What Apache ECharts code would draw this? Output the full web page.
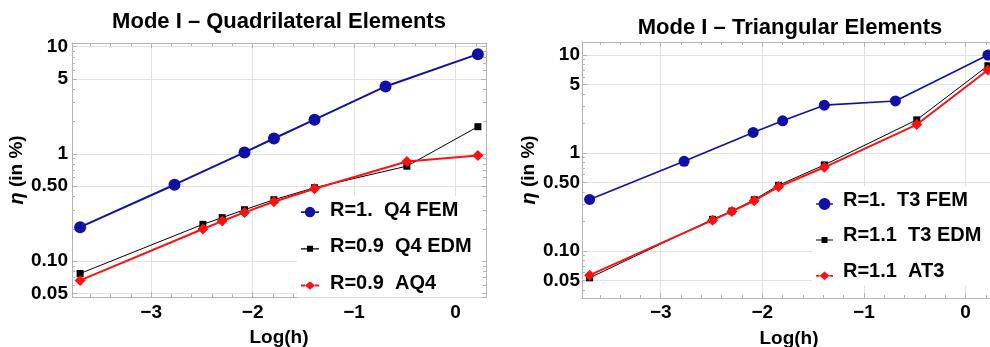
<!DOCTYPE html>
<html><head><meta charset="utf-8">
<script src="https://cdn.jsdelivr.net/npm/echarts@6/dist/echarts.min.js"></script>
<style>html,body{margin:0;padding:0;background:#fff;overflow:hidden}#c{width:990px;height:347px}</style>
</head><body><div id="c"></div>
<script>
// ---- Data ----
const titleQ = 'Mode I \u2013 Quadrilateral Elements';
const titleT = 'Mode I \u2013 Triangular Elements';
const xName = 'Log(h)';
const yName = '{i|\u03b7} (in %)';

const namesQ = ['R=1.  Q4 FEM', 'R=0.9  Q4 EDM', 'R=0.9  AQ4'];
const xQ_FEM = [-3.70, -2.77, -2.08, -1.79, -1.39, -0.69, 0.22];
const yQ_FEM = [0.207, 0.515, 1.03, 1.39, 2.08, 4.25, 8.5];
const xQ_EDM = [-3.70, -2.49, -2.30, -2.08, -1.79, -1.39, -0.48, 0.22];
const yQ_EDM = [0.0765, 0.22, 0.254, 0.301, 0.373, 0.483, 0.767, 1.79];
const xQ_AQ4 = [-3.70, -2.49, -2.30, -2.08, -1.79, -1.39, -0.48, 0.22];
const yQ_AQ4 = [0.066, 0.199, 0.236, 0.284, 0.357, 0.472, 0.848, 0.964];

const namesT = ['R=1.  T3 FEM', 'R=1.1  T3 EDM', 'R=1.1  AT3'];
const xT_FEM = [-3.70, -2.77, -2.09, -1.80, -1.39, -0.69, 0.22];
const yT_FEM = [0.335, 0.822, 1.62, 2.13, 3.08, 3.40, 10.0];
const xT_EDM = [-3.70, -2.49, -2.30, -2.08, -1.84, -1.39, -0.48, 0.22];
const yT_EDM = [0.053, 0.21, 0.255, 0.333, 0.468, 0.755, 2.18, 7.78];
const xT_AT3 = [-3.70, -2.49, -2.30, -2.08, -1.84, -1.39, -0.48, 0.22];
const yT_AT3 = [0.0565, 0.206, 0.253, 0.325, 0.451, 0.714, 1.95, 7.03];

const xTickValues = [-3, -2, -1, 0];
const xTickLabels = ['\u22123', '\u22122', '\u22121', '0'];
const xMinorTicks = [-3.6, -3.4, -3.2, -2.8, -2.6, -2.4, -2.2, -1.8, -1.6, -1.4, -1.2, -0.8, -0.6, -0.4, -0.2, 0.2];
const yTickValues = [0.05, 0.1, 0.5, 1, 5, 10];
const yTickLabels = ['0.05', '0.10', '0.50', '1', '5', '10'];
const yMinorTicks = [0.04, 0.06, 0.07, 0.08, 0.09, 0.2, 0.3, 0.4, 0.6, 0.7, 0.8, 0.9, 2, 3, 4, 6, 7, 8, 9, 20];

// ---- Styling ----
const FONT = 'Liberation Sans';
const BLUE = '#1010a4', RED = '#ff1010', BLACK = '#000000';
const FRAME = '#b4b4b4', GRID = '#e2e2e2';

const grids = [
  {left: 72, top: 43, width: 414, height: 254, containLabel: false, outerBoundsMode: 'none'},
  {left: 582, top: 42, width: 414, height: 256, containLabel: false, outerBoundsMode: 'none'}
];
const xRanges = [[-3.78, 0.30], [-3.775, 0.30]];
const yRanges = [[0.0462, 10.8], [0.033, 13.6]];

function xLabelFmt(v) { for (let i = 0; i < xTickValues.length; i++) if (Math.abs(v - xTickValues[i]) < 1e-6) return xTickLabels[i]; return ''; }
function yLabelFmt(v) { for (let i = 0; i < yTickValues.length; i++) if (Math.abs(Math.log10(v) - Math.log10(yTickValues[i])) < 1e-6) return yTickLabels[i]; return ''; }

const xAxes = [], yAxes = [];
grids.forEach((g, gi) => {
  const [xmin, xmax] = xRanges[gi];
  const [ymin, ymax] = yRanges[gi];
  const base = {gridIndex: gi, min: xmin, max: xmax, type: 'value'};
  xAxes.push(Object.assign({}, base, {
    position: 'bottom', name: xName, nameLocation: 'middle', nameGap: 31,
    nameTextStyle: {fontFamily: FONT, fontWeight: 'bold', fontSize: 19, color: '#000'},
    axisLine: {show: true, onZero: false, lineStyle: {color: FRAME, width: 1}},
    axisTick: {show: true, inside: true, length: 5, customValues: xTickValues, lineStyle: {color: FRAME}},
    axisLabel: {show: true, customValues: xTickValues, formatter: xLabelFmt, margin: gi === 0 ? 6 : 5,
      fontFamily: FONT, fontWeight: 'bold', fontSize: 19, color: '#000'},
    splitLine: {show: true, lineStyle: {color: GRID, width: 1}}
  }));
  xAxes.push(Object.assign({}, base, {
    position: 'bottom', axisLine: {show: false, onZero: false},
    axisTick: {show: true, inside: true, length: 3, customValues: xMinorTicks, lineStyle: {color: FRAME}},
    axisLabel: {show: false}, splitLine: {show: false}
  }));
  xAxes.push(Object.assign({}, base, {
    position: 'top', axisLine: {show: true, onZero: false, lineStyle: {color: FRAME, width: 1}},
    axisTick: {show: true, inside: true, length: 5, customValues: xTickValues, lineStyle: {color: FRAME}},
    axisLabel: {show: false}, splitLine: {show: false}
  }));
  xAxes.push(Object.assign({}, base, {
    position: 'top', axisLine: {show: false, onZero: false},
    axisTick: {show: true, inside: true, length: 3, customValues: xMinorTicks, lineStyle: {color: FRAME}},
    axisLabel: {show: false}, splitLine: {show: false}
  }));

  const ybase = {gridIndex: gi, min: ymin, max: ymax, type: 'log', logBase: 10};
  yAxes.push(Object.assign({}, ybase, {
    position: 'left', name: yName, nameLocation: 'middle', nameGap: 43,
    nameTextStyle: {fontFamily: FONT, fontWeight: 'bold', fontSize: 19, color: '#000',
      rich: {i: {fontFamily: FONT, fontWeight: 'bold', fontStyle: 'italic', fontSize: 20, color: '#000'}}},
    axisLine: {show: true, onZero: false, lineStyle: {color: FRAME, width: 1}},
    axisTick: {show: true, inside: true, length: 5, customValues: yTickValues, lineStyle: {color: FRAME}},
    axisLabel: {show: true, customValues: yTickValues, formatter: yLabelFmt, margin: gi === 0 ? 4 : 2,
      fontFamily: FONT, fontWeight: 'bold', fontSize: 19, color: '#000'},
    splitLine: {show: true, lineStyle: {color: GRID, width: 1}},
    minorTick: {show: false}
  }));
  yAxes.push(Object.assign({}, ybase, {
    position: 'left', axisLine: {show: false, onZero: false},
    axisTick: {show: true, inside: true, length: 3, customValues: yMinorTicks, lineStyle: {color: FRAME}},
    axisLabel: {show: false}, splitLine: {show: false}
  }));
  yAxes.push(Object.assign({}, ybase, {
    position: 'right', axisLine: {show: true, onZero: false, lineStyle: {color: FRAME, width: 1}},
    axisTick: {show: true, inside: true, length: 5, customValues: yTickValues, lineStyle: {color: FRAME}},
    axisLabel: {show: false}, splitLine: {show: false}
  }));
  yAxes.push(Object.assign({}, ybase, {
    position: 'right', axisLine: {show: false, onZero: false},
    axisTick: {show: true, inside: true, length: 3, customValues: yMinorTicks, lineStyle: {color: FRAME}},
    axisLabel: {show: false}, splitLine: {show: false}
  }));
});

function zip(xs, ys) { return xs.map((x, i) => [x, ys[i]]); }

// legend icon: short line with the series marker, in a w x h box (marker centre at cy)
function legendIcon(kind, w, h, lineLen, cy, size, lw) {
  const cx = lineLen / 2, r = size / 2, t = lw / 2;
  let p = 'path://M0,0M' + w + ',' + h;
  const seg = (a, b) => 'M' + a + ',' + (cy - t) + 'L' + b + ',' + (cy - t) + 'L' + b + ',' + (cy + t) + 'L' + a + ',' + (cy + t) + 'Z';
  let hw = r;
  if (kind === 'circle') {
    p += seg(0, cx - r) + seg(cx + r, lineLen);
    p += 'M' + (cx - r) + ',' + cy + 'A' + r + ',' + r + ',0,1,0,' + (cx + r) + ',' + cy + 'A' + r + ',' + r + ',0,1,0,' + (cx - r) + ',' + cy + 'Z';
  } else if (kind === 'square') {
    p += seg(0, cx - r) + seg(cx + r, lineLen);
    p += 'M' + (cx - r) + ',' + (cy - r) + 'L' + (cx + r) + ',' + (cy - r) + 'L' + (cx + r) + ',' + (cy + r) + 'L' + (cx - r) + ',' + (cy + r) + 'Z';
  } else {
    const hh = r * 0.85;
    p += seg(0, cx - r) + seg(cx + r, lineLen);
    p += 'M' + cx + ',' + (cy - hh) + 'L' + (cx + r) + ',' + cy + 'L' + cx + ',' + (cy + hh) + 'L' + (cx - r) + ',' + cy + 'Z';
  }
  return p;
}

function mkSeries(gi, name, xs, ys, color, symbol, size, lw, z) {
  return {
    type: 'line', name: name, xAxisIndex: gi * 4, yAxisIndex: gi * 4,
    data: zip(xs, ys), symbol: symbol, symbolSize: size, showSymbol: true,
    itemStyle: {color: color}, lineStyle: {color: color, width: lw},
    z: z, clip: true, animation: false, emphasis: {disabled: true}
  };
}

const series = [
  mkSeries(0, namesQ[0], xQ_FEM, yQ_FEM, BLUE, 'circle', 12, 2, 3),
  mkSeries(0, namesQ[1], xQ_EDM, yQ_EDM, BLACK, 'rect', 7, 1, 4),
  mkSeries(0, namesQ[2], xQ_AQ4, yQ_AQ4, RED, 'diamond', 11, 2, 5),
  mkSeries(1, namesT[0], xT_FEM, yT_FEM, BLUE, 'circle', 11, 1.6, 3),
  mkSeries(1, namesT[1], xT_EDM, yT_EDM, BLACK, 'rect', 7, 1, 4),
  mkSeries(1, namesT[2], xT_AT3, yT_AT3, RED, 'diamond', 11, 2, 5)
];

function mkLegend(names, left, top, gap, boxW, lineLen, cy, circ) {
  return {
    orient: 'vertical', left: left, top: top, itemWidth: boxW, itemHeight: 20, itemGap: gap,
    padding: [4, 10, 4, 4], backgroundColor: '#ffffff', selectedMode: false,
    textStyle: {fontFamily: FONT, fontWeight: 'bold', fontSize: 20, color: '#000', lineHeight: 20},
    data: [
      {name: names[0], icon: legendIcon('circle', boxW, 20, lineLen, cy, circ, 1.6)},
      {name: names[1], icon: legendIcon('square', boxW, 20, lineLen, cy, 6, 1.2)},
      {name: names[2], icon: legendIcon('diamond', boxW, 20, lineLen, cy, 10, 1.8)}
    ]
  };
}

const option = {
  animation: false,
  backgroundColor: '#ffffff',
  title: [
    {text: titleQ, left: 279, top: 11, textAlign: 'center', padding: 0,
     textStyle: {fontFamily: FONT, fontWeight: 'bold', fontSize: 22, color: '#000'}},
    {text: titleT, left: 790, top: 17, textAlign: 'center', padding: 0,
     textStyle: {fontFamily: FONT, fontWeight: 'bold', fontSize: 22, color: '#000'}}
  ],
  legend: [
    mkLegend(namesQ, 297, 196, 16.7, 24, 18, 12.1, 10.5),
    mkLegend(namesT, 812, 186, 15.8, 22, 17, 14.2, 12)
  ],
  grid: grids,
  xAxis: xAxes,
  yAxis: yAxes,
  series: series
};

const chart = echarts.init(document.getElementById('c'), null, {renderer: 'canvas'});
chart.setOption(option);
</script>
</body></html>
